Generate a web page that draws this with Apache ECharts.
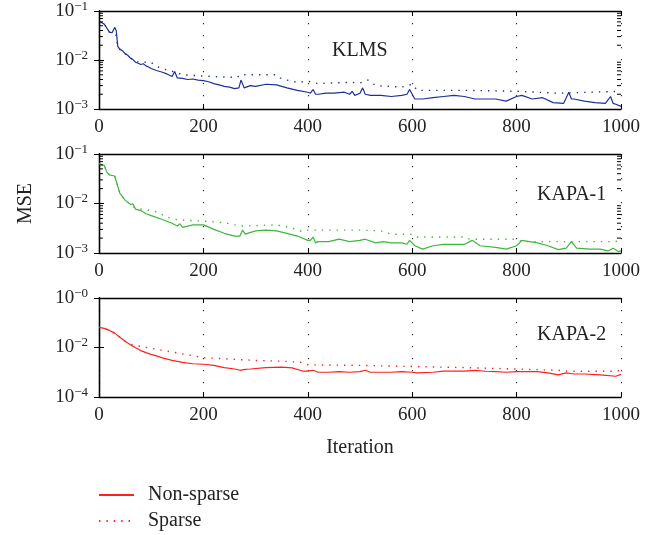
<!DOCTYPE html>
<html>
<head>
<meta charset="utf-8">
<script src="https://cdn.jsdelivr.net/npm/echarts@6/dist/echarts.min.js"></script>
<style>
    html, body { margin: 0; padding: 0; background: #fff; }
    #chart { width: 672px; height: 535px; }
</style>
</head>
<body>
<div id="chart"></div>
<script>
// KLMS
const klmsIter = [0,5,10,15,20,25,30,33,36,40,45,50,55,60,65,70,75,80,85,90,95,100,110,120,130,140,145,150,160,170,180,190,200,210,220,230,240,250,260,268,272,278,290,300,320,340,360,380,400,405,410,415,420,435,450,470,480,485,490,500,505,510,520,540,560,580,590,595,600,605,620,640,660,680,700,720,740,760,780,800,810,830,850,870,890,900,905,910,930,950,970,980,985,990,1000];
const klmsMse = [0.061,0.058,0.054,0.045,0.037,0.036,0.046,0.040,0.019,0.0165,0.0155,0.0135,0.0125,0.011,0.0102,0.0090,0.0086,0.0081,0.0084,0.0076,0.0072,0.0067,0.0061,0.0057,0.0052,0.0046,0.0058,0.0043,0.0042,0.0040,0.0041,0.0039,0.0038,0.0036,0.0033,0.0031,0.0029,0.0028,0.0026,0.0027,0.0039,0.0027,0.0030,0.0029,0.0032,0.0031,0.0027,0.0024,0.0022,0.0021,0.0025,0.0020,0.0020,0.0021,0.0021,0.0022,0.0020,0.0023,0.0019,0.0021,0.0027,0.0020,0.0019,0.0019,0.0018,0.0019,0.0020,0.0025,0.0020,0.0016,0.0016,0.0017,0.0018,0.0019,0.0018,0.0016,0.0016,0.0016,0.00145,0.0018,0.0019,0.0016,0.0017,0.00135,0.0013,0.0022,0.0016,0.0016,0.00145,0.00135,0.0013,0.0018,0.0013,0.00125,0.00113];
const klmsSparseIter = [0,10,20,30,36,40,50,60,70,80,90,100,110,120,140,160,200,240,265,270,300,340,350,380,400,420,480,500,515,530,580,600,610,700,800,880,1000];
const klmsSparseMse = [0.061,0.054,0.037,0.046,0.019,0.0165,0.0135,0.011,0.0092,0.0091,0.0090,0.0089,0.0075,0.0067,0.0059,0.0050,0.0047,0.0045,0.0044,0.0050,0.0050,0.0050,0.0041,0.0035,0.0037,0.0033,0.0035,0.0034,0.0039,0.0030,0.0028,0.0032,0.0024,0.0024,0.0023,0.0021,0.0023];

// KAPA-1
const kapa1Iter = [0,10,15,20,30,33,40,50,60,65,70,80,90,100,120,140,150,155,160,180,200,220,240,260,270,275,280,300,320,340,360,380,400,405,410,415,420,440,460,480,500,510,530,545,560,580,590,595,605,620,640,660,680,700,715,730,760,780,800,810,840,860,880,895,905,915,940,960,975,985,995,1000];
const kapa1Mse = [0.063,0.059,0.043,0.038,0.036,0.034,0.016,0.0117,0.0096,0.0098,0.0077,0.0072,0.0062,0.0057,0.0048,0.0040,0.0035,0.0039,0.0033,0.0037,0.0037,0.0030,0.0025,0.0022,0.0022,0.0029,0.0024,0.0028,0.0029,0.0028,0.0025,0.0022,0.0018,0.0018,0.0021,0.0016,0.0017,0.0017,0.0019,0.0017,0.0018,0.0019,0.0016,0.0017,0.0016,0.0016,0.0015,0.0018,0.0014,0.0012,0.0014,0.0015,0.0015,0.0015,0.0018,0.0014,0.0013,0.0012,0.0014,0.0018,0.0016,0.0014,0.00117,0.00125,0.0017,0.00125,0.0012,0.0012,0.0011,0.00125,0.00107,0.0011];
const kapa1SparseIter = [0,10,15,20,30,33,40,50,60,70,90,110,130,150,200,240,270,280,340,370,390,400,500,540,560,600,610,700,710,800,810,990,1000];
const kapa1SparseMse = [0.063,0.059,0.043,0.038,0.036,0.034,0.016,0.0117,0.0096,0.0080,0.0075,0.0068,0.0053,0.0047,0.0044,0.0041,0.0035,0.0035,0.0037,0.0032,0.0027,0.0029,0.0029,0.0028,0.0024,0.0024,0.0021,0.0021,0.0019,0.0019,0.0017,0.0017,0.0020];

// KAPA-2
const kapa2Iter = [0,10,20,30,40,50,60,70,80,90,100,110,120,140,160,180,200,220,240,260,270,280,290,320,350,370,390,400,410,420,440,460,480,500,510,520,540,560,580,600,610,640,660,700,720,740,760,780,800,840,860,880,895,910,930,960,990,1000];
const kapa2Mse = [0.065,0.059,0.049,0.038,0.026,0.018,0.013,0.0098,0.0075,0.0062,0.0053,0.0046,0.0039,0.0030,0.0025,0.0022,0.0021,0.0019,0.00154,0.00135,0.0012,0.0013,0.00135,0.00154,0.0016,0.0015,0.00112,0.00112,0.0012,0.0010,0.0010,0.00106,0.0010,0.00106,0.0012,0.0010,0.0010,0.0010,0.00106,0.0010,0.00095,0.0010,0.00112,0.00112,0.0012,0.0011,0.00106,0.0010,0.00106,0.00106,0.00095,0.00078,0.00095,0.00085,0.00085,0.00078,0.00069,0.00082];
const kapa2SparseIter = [0,10,20,30,40,50,60,80,100,150,200,250,300,350,390,400,500,600,700,800,880,900,990,1000];
const kapa2SparseMse = [0.065,0.059,0.049,0.038,0.026,0.018,0.0135,0.011,0.0093,0.0060,0.0039,0.0034,0.0030,0.0028,0.0025,0.0020,0.0019,0.0017,0.00154,0.00135,0.0012,0.0011,0.0011,0.0012];

const minorTicks = [0.002,0.003,0.004,0.005,0.006,0.007,0.008,0.009,0.02,0.03,0.04,0.05,0.06,0.07,0.08,0.09];
const panelNames = ['KLMS', 'KAPA-1', 'KAPA-2'];
const xTicks = [0, 200, 400, 600, 800, 1000];

const font = 'Liberation Serif';
const ink = '#222';
const zip = (xs, ys) => xs.map((x, i) => [x, ys[i]]);

const grids = [
    { left: 99, top: 10, width: 522, height: 99 },
    { left: 99, top: 154, width: 522, height: 99 },
    { left: 99, top: 298, width: 522, height: 99 }
];
const yRanges = [[0.001, 0.1, 1], [0.001, 0.1, 1], [0.0001, 1, 2]];

const xAxis = [];
const yAxis = [];
grids.forEach((g, i) => {
    xAxis.push({
        gridIndex: i, type: 'value', min: xTicks[0], max: xTicks[xTicks.length - 1], interval: 200,
        axisLine: { lineStyle: { color: '#000', width: 1.3 } },
        axisTick: { inside: true, length: 5, lineStyle: { color: '#000' } },
        axisLabel: { margin: 9, fontSize: 19, fontFamily: font, color: ink, formatter: v => String(v) },
        splitLine: { show: true, lineStyle: { color: '#333', width: 1.2, type: [1.2, 10.8] } },
        name: i === 2 ? 'Iteration' : '',
        nameLocation: 'middle', nameGap: 41,
        nameTextStyle: { fontSize: 20, fontFamily: font, color: ink }
    });
    xAxis.push({
        gridIndex: i, type: 'value', position: 'top', min: 0, max: 1000, interval: 200,
        axisLine: { lineStyle: { color: '#000', width: 1.3 } },
        axisTick: { inside: true, length: 5, lineStyle: { color: '#000' } },
        axisLabel: { show: false }, splitLine: { show: false }
    });
    const [lo, hi, step] = yRanges[i];
    yAxis.push({
        gridIndex: i, type: 'log', logBase: 10, min: lo, max: hi, interval: step,
        axisLine: { lineStyle: { color: '#000', width: 1.3 } },
        axisTick: { inside: true, length: 5, lineStyle: { color: '#000' } },
        splitLine: { show: false },
        axisLabel: {
            margin: 11,
            formatter: v => '{a|10}{b|\u2212' + Math.abs(Math.round(Math.log10(v))) + '}',
            rich: {
                a: { fontSize: 19, fontFamily: font, color: ink, lineHeight: 22 },
                b: { fontSize: 13, fontFamily: font, color: ink, lineHeight: 12, verticalAlign: 'top' }
            }
        },
        name: i === 1 ? 'MSE' : '',
        nameLocation: 'middle', nameGap: 63, nameRotate: 90,
        nameTextStyle: { fontSize: 20, fontFamily: font, color: ink }
    });
    yAxis.push({
        gridIndex: i, type: 'log', logBase: 10, min: lo, max: hi, interval: step, position: 'right',
        axisLine: { lineStyle: { color: '#000', width: 1.3 } },
        axisTick: { inside: true, length: 5, lineStyle: { color: '#000' } },
        axisLabel: { show: false }, splitLine: { show: false }
    });
});

function lineSeries(name, idx, data, color, dotted) {
    return {
        name: name, type: 'line', xAxisIndex: idx * 2, yAxisIndex: idx * 2,
        data: data, symbol: 'none', animation: false, silent: true,
        color: color,
        lineStyle: { color: color, width: dotted ? 1.4 : 1.2, type: dotted ? [1.4, 6] : 'solid' },
        z: dotted ? 3 : 2
    };
}

function minorSeries(idx) {
    return {
        name: 'minor', type: 'custom', xAxisIndex: idx * 2, yAxisIndex: idx * 2,
        silent: true, animation: false, clip: false, z: 5,
        data: minorTicks.map(v => [0, v]),
        encode: { x: 0, y: 1 },
        renderItem: (params, api) => {
            const l = api.coord([0, api.value(1)]);
            const r = api.coord([1000, api.value(1)]);
            return {
                type: 'group', children: [
                    { type: 'line', shape: { x1: l[0], y1: l[1], x2: l[0] + 4, y2: l[1] }, style: { stroke: '#000', lineWidth: 1 } },
                    { type: 'line', shape: { x1: r[0], y1: r[1], x2: r[0] - 4, y2: r[1] }, style: { stroke: '#000', lineWidth: 1 } }
                ]
            };
        }
    };
}

const red = '#ff1f1f', green = '#3db83d', blue = '#1f2f98';

const series = [
    // red first so the legend picks up the red styles
    lineSeries('Non-sparse', 2, zip(kapa2Iter, kapa2Mse), red, false),
    lineSeries('Sparse', 2, zip(kapa2SparseIter, kapa2SparseMse), red, true),
    lineSeries('Non-sparse', 0, zip(klmsIter, klmsMse), blue, false),
    lineSeries('Sparse', 0, zip(klmsSparseIter, klmsSparseMse), blue, true),
    lineSeries('Non-sparse', 1, zip(kapa1Iter, kapa1Mse), green, false),
    lineSeries('Sparse', 1, zip(kapa1SparseIter, kapa1SparseMse), green, true),
    minorSeries(0),
    minorSeries(1)
];

const titlePos = [[332, 41], [537, 185], [537, 325]];
const title = panelNames.map((t, i) => ({
    text: t, left: titlePos[i][0], top: titlePos[i][1], padding: 0,
    textStyle: { fontSize: 20, fontWeight: 'normal', fontFamily: font, color: ink }
}));

const chart = echarts.init(document.getElementById('chart'), null, { renderer: 'canvas' });
chart.setOption({
    backgroundColor: '#fff',
    animation: false,
    title: title,
    grid: grids,
    xAxis: xAxis,
    yAxis: yAxis,
    legend: {
        data: ['Non-sparse', 'Sparse'],
        orient: 'vertical', left: 98, top: 485, padding: 0,
        itemWidth: 35, itemHeight: 14, itemGap: 6,
        selectedMode: false,
        itemStyle: { opacity: 0 },
        textStyle: { fontSize: 20, fontFamily: font, color: ink, padding: [0, 0, 0, 9] }
    },
    series: series
});
</script>
</body>
</html>
